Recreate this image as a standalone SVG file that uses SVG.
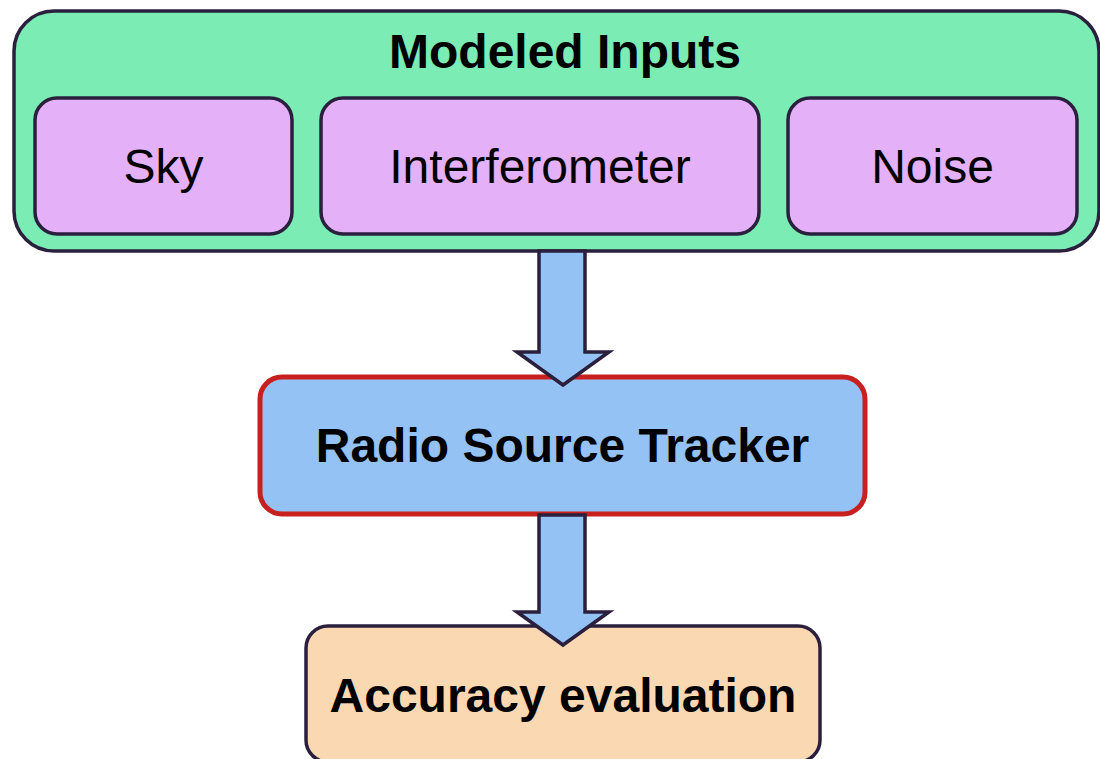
<svg xmlns="http://www.w3.org/2000/svg" width="1100" height="759" viewBox="0 0 1100 759">
  <style>
    .box { stroke: #2a1f3d; stroke-width: 3.5; }
    .group { fill: #7aecb4; }
    .input { fill: #e4b0f7; }
    .tracker { fill: #94c2f4; stroke: #c8201e; stroke-width: 5; }
    .eval { fill: #f9d8b2; }
    .arrow { fill: #94c2f4; stroke: #2a1f3d; stroke-width: 3.5; stroke-linejoin: miter; }
    text { font-family: "Liberation Sans", Arial, sans-serif; font-size: 48px; fill: #000; text-anchor: middle; }
    .bold { font-weight: bold; }
  </style>

  <!-- Container of modeled inputs -->
  <g id="modeled-inputs">
    <rect class="box group" x="14" y="11" width="1085" height="240" rx="40" ry="40"/>
    <text class="bold" x="565" y="68">Modeled Inputs</text>
  </g>
  <g id="sky">
    <rect class="box input" x="35" y="98" width="257" height="136" rx="22" ry="22"/>
    <text x="163.5" y="183">Sky</text>
  </g>
  <g id="interferometer">
    <rect class="box input" x="321" y="98" width="438" height="136" rx="22" ry="22"/>
    <text x="540" y="183">Interferometer</text>
  </g>
  <g id="noise">
    <rect class="box input" x="788" y="98" width="289" height="136" rx="22" ry="22"/>
    <text x="932.5" y="183">Noise</text>
  </g>

  <!-- Tracker -->
  <g id="tracker">
    <rect class="tracker" x="260" y="377" width="605" height="137" rx="22" ry="22"/>
    <text class="bold" x="562.5" y="462">Radio Source Tracker</text>
  </g>

  <!-- Evaluation -->
  <g id="evaluation">
    <rect class="box eval" x="306" y="626" width="514" height="136" rx="22" ry="22"/>
    <text class="bold" x="563" y="712">Accuracy evaluation</text>
  </g>

  <!-- Block arrows between stages -->
  <g id="connectors">
    <polygon class="arrow" points="539,251 585,251 585,352 609,352 563,385 517,352 539,352"/>
    <polygon class="arrow" points="539,515 585,515 585,612 609,612 563,645 517,612 539,612"/>
  </g>
</svg>
